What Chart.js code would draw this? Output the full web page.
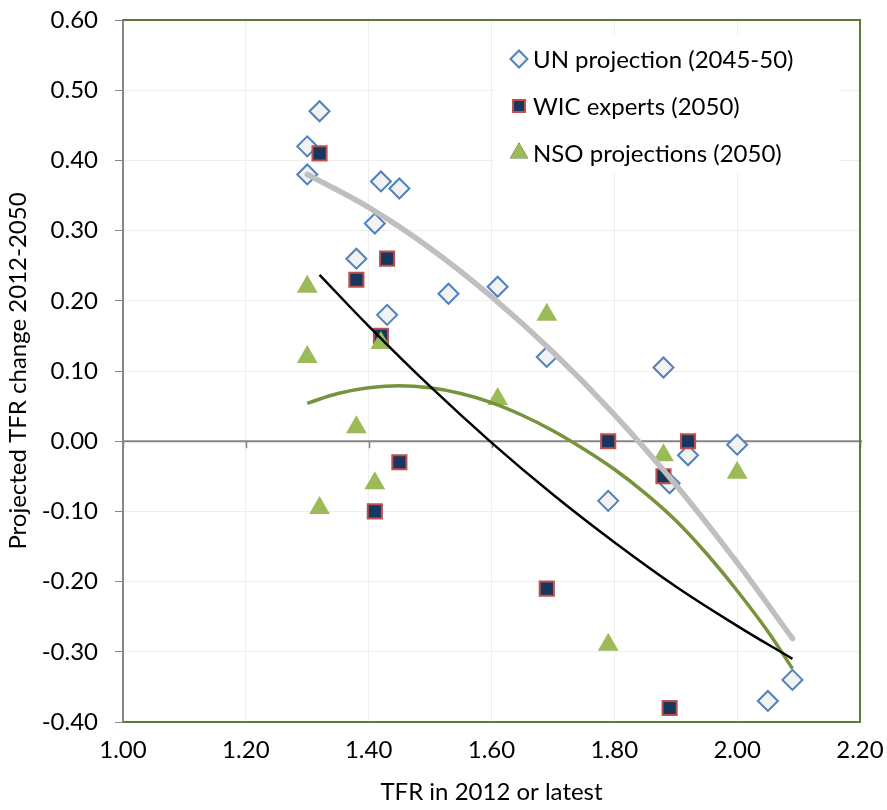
<!DOCTYPE html>
<html>
<head>
<meta charset="utf-8">
<script src="https://cdn.jsdelivr.net/npm/chart.js@4.4.1/dist/chart.umd.min.js"></script>
<style>
    html, body { margin: 0; padding: 0; background: #ffffff; }
    #wrap { width: 887px; height: 810px; }
</style>
</head>
<body>
<div id="wrap"><canvas id="tfrChart" width="887" height="810"></canvas></div>
<script>
// --- DATA ---
// UN projection (2045-50)
const unX = [1.30, 1.32, 1.30, 1.42, 1.45, 1.41, 1.38, 1.43, 1.53, 1.61, 1.69, 1.88, 1.79, 1.89, 1.92, 2.00, 2.05, 2.09];
const unY = [0.42, 0.47, 0.38, 0.37, 0.36, 0.31, 0.26, 0.18, 0.21, 0.22, 0.12, 0.105, -0.085, -0.06, -0.02, -0.005, -0.37, -0.34];

// WIC experts (2050)
const wicX = [1.32, 1.38, 1.43, 1.42, 1.45, 1.41, 1.69, 1.79, 1.88, 1.92, 1.89];
const wicY = [0.41, 0.23, 0.26, 0.15, -0.03, -0.10, -0.21, 0.00, -0.05, 0.00, -0.38];

// NSO projections (2050)
const nsoX = [1.30, 1.30, 1.32, 1.38, 1.42, 1.41, 1.61, 1.69, 1.79, 1.88, 2.00];
const nsoY = [0.22, 0.12, -0.095, 0.02, 0.14, -0.06, 0.06, 0.18, -0.29, -0.02, -0.045];

// trend lines, points
const unTrendX = [1.30, 1.40, 1.50, 1.60, 1.70, 1.80, 1.90, 2.00, 2.09];
const unTrendY = [0.38, 0.333, 0.275, 0.206, 0.127, 0.038, -0.062, -0.173, -0.281];

const wicTrendX = [1.32, 1.40, 1.50, 1.60, 1.70, 1.80, 1.90, 2.00, 2.09];
const wicTrendY = [0.237, 0.164, 0.078, -0.002, -0.076, -0.144, -0.207, -0.263, -0.31];

const nsoTrendX = [1.30, 1.35, 1.40, 1.45, 1.50, 1.55, 1.60, 1.65, 1.70, 1.75, 1.80, 1.85, 1.90, 1.95, 2.00, 2.05, 2.09];
const nsoTrendY = [0.054, 0.068, 0.076, 0.079, 0.076, 0.068, 0.055, 0.037, 0.015, -0.011, -0.040, -0.074, -0.113, -0.160, -0.213, -0.271, -0.324];

const legendLabels = ['UN projection (2045-50)', 'WIC experts (2050)', 'NSO projections (2050)'];

const FONT = 'Lato, "Open Sans", sans-serif';

function pts(xs, ys) {
    return xs.map((x, i) => ({ x: x, y: ys[i] }));
}

// --- PLOT FRAME, ZERO LINE, LEGEND ---
const framePlugin = {
    id: 'frame',
    beforeDraw(chart) {
        const c = chart.ctx;
        c.save();
        c.fillStyle = '#ffffff';
        c.fillRect(0, 0, chart.width, chart.height);
        c.restore();
    },
    beforeDatasetsDraw(chart) {
        const c = chart.ctx;
        const a = chart.chartArea;
        const xs = chart.scales.x;
        const y0 = chart.scales.y.getPixelForValue(0);
        c.save();
        // x axis crossing at zero
        c.strokeStyle = '#868686';
        c.lineWidth = 2;
        c.beginPath();
        c.moveTo(a.left, y0);
        c.lineTo(a.right + 2, y0);
        c.stroke();
        c.lineWidth = 1.5;
        xs.ticks.forEach(t => {
            const px = Math.round(xs.getPixelForValue(t.value)) + 0.5;
            c.beginPath();
            c.moveTo(px, y0);
            c.lineTo(px, y0 + 7);
            c.stroke();
        });
        // green border top/right/bottom
        c.strokeStyle = '#5f7a32';
        c.lineWidth = 2;
        c.beginPath();
        c.moveTo(a.left, a.top);
        c.lineTo(a.right, a.top);
        c.lineTo(a.right, a.bottom);
        c.lineTo(a.left, a.bottom);
        c.stroke();
        c.restore();
    },
    afterDraw(chart) {
        const c = chart.ctx;
        const a = chart.chartArea;
        const lx = a.left + 396;
        const ly = a.top + 39;
        const gap = 47;
        c.save();
        c.fillStyle = '#ffffff';
        c.fillRect(lx - 25, ly - 25, 345, 140);
        c.font = '24px ' + FONT;
        c.textBaseline = 'middle';
        legendLabels.forEach((label, i) => {
            const ds = chart.data.datasets[i];
            const y = ly + i * gap;
            Chart.helpers.drawPoint(c, {
                pointStyle: ds.pointStyle,
                radius: i === 2 ? 10.5 : 8.5,
                rotation: 0,
                borderWidth: ds.borderWidth
            }, lx, y);
            c.fillStyle = ds.backgroundColor;
            c.strokeStyle = ds.borderColor;
            c.lineWidth = ds.borderWidth;
            c.fill();
            if (ds.borderWidth > 0) c.stroke();
            c.fillStyle = '#000000';
            c.fillText(label, lx + 14, y + 1);
        });
        c.restore();
    }
};

const ctx = document.getElementById('tfrChart').getContext('2d');

const chart = new Chart(ctx, {
    type: 'scatter',
    data: {
        datasets: [
            {
                label: legendLabels[0],
                data: pts(unX, unY),
                pointStyle: 'rectRot',
                pointRadius: 10,
                backgroundColor: '#f2f2f2',
                borderColor: '#4f81bd',
                borderWidth: 2,
                order: 6
            },
            {
                label: legendLabels[1],
                data: pts(wicX, wicY),
                pointStyle: 'rect',
                pointRadius: 10,
                backgroundColor: '#17375e',
                borderColor: '#c0504d',
                borderWidth: 2,
                order: 5
            },
            {
                label: legendLabels[2],
                data: pts(nsoX, nsoY),
                pointStyle: 'triangle',
                pointRadius: 12,
                backgroundColor: '#9bbb59',
                borderColor: '#9bbb59',
                borderWidth: 0,
                order: 4
            },
            {
                label: 'UN trend',
                data: pts(unTrendX, unTrendY),
                showLine: true,
                pointRadius: 0,
                borderColor: '#bfbfbf',
                borderWidth: 5.5,
                borderCapStyle: 'round',
                tension: 0.4,
                order: 3
            },
            {
                label: 'NSO trend',
                data: pts(nsoTrendX, nsoTrendY),
                showLine: true,
                pointRadius: 0,
                borderColor: '#77933c',
                borderWidth: 3.5,
                tension: 0.4,
                order: 2
            },
            {
                label: 'WIC trend',
                data: pts(wicTrendX, wicTrendY),
                showLine: true,
                pointRadius: 0,
                borderColor: '#000000',
                borderWidth: 2.5,
                tension: 0.4,
                order: 1
            }
        ]
    },
    options: {
        responsive: false,
        animation: false,
        layout: { padding: { top: 20, right: 27, left: 0, bottom: 0 } },
        plugins: {
            legend: { display: false },
            tooltip: { enabled: false }
        },
        scales: {
            x: {
                type: 'linear',
                min: 1.0,
                max: 2.2,
                afterFit(scale) {
                    scale.height = 88;
                    scale.paddingLeft = 0;
                    scale.paddingRight = 0;
                },
                border: { display: false },
                grid: { color: '#eeeeee', lineWidth: 1, drawTicks: false },
                ticks: {
                    stepSize: 0.2,
                    padding: 14,
                    color: '#000000',
                    font: { family: FONT, size: 24 },
                    callback: v => v.toFixed(2)
                },
                title: {
                    display: true,
                    text: 'TFR in 2012 or latest',
                    color: '#000000',
                    font: { family: FONT, size: 24, lineHeight: 1.2 },
                    padding: { top: 0, bottom: 3 }
                }
            },
            y: {
                type: 'linear',
                min: -0.4,
                max: 0.6,
                afterFit(scale) {
                    scale.width = 123;
                    scale.paddingTop = 0;
                    scale.paddingBottom = 0;
                },
                border: { display: true, color: '#868686', width: 2 },
                grid: { color: '#eeeeee', lineWidth: 1, tickColor: '#868686', tickLength: 8 },
                ticks: {
                    stepSize: 0.1,
                    padding: 17,
                    color: '#000000',
                    font: { family: FONT, size: 24 },
                    callback: v => v.toFixed(2)
                },
                title: {
                    display: true,
                    text: 'Projected TFR change 2012-2050',
                    color: '#000000',
                    font: { family: FONT, size: 24, lineHeight: 1.2 },
                    padding: { top: 4, bottom: 0 }
                }
            }
        }
    },
    plugins: [framePlugin]
});
</script>
</body>
</html>
